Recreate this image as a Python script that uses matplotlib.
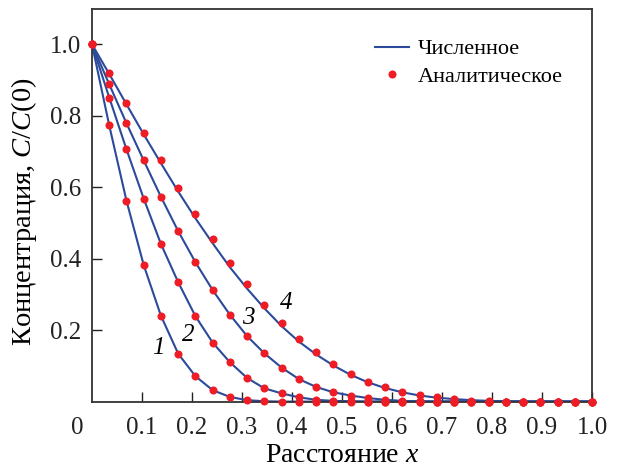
import numpy as np
import matplotlib
matplotlib.use('Agg')
import matplotlib.pyplot as plt
from matplotlib.transforms import ScaledTranslation

plt.rcParams['font.family'] = ['Liberation Serif', 'DejaVu Serif']
plt.rcParams['mathtext.fontset'] = 'custom'
plt.rcParams['mathtext.rm'] = 'Liberation Serif'
plt.rcParams['mathtext.it'] = 'Liberation Serif:italic'

# сетка по x (30 узлов)
x = np.arange(30) / 29

# аналитическое решение (точки)
c1 = [1.0, 0.773, 0.562, 0.382, 0.240, 0.134, 0.071, 0.032, 0.013, 0.004,
      0.001, 0, 0, 0, 0, 0, 0, 0, 0, 0, 0, 0, 0, 0, 0, 0, 0, 0, 0, 0]
c2 = [1.0, 0.851, 0.706, 0.568, 0.441, 0.334, 0.239, 0.165, 0.110, 0.066,
      0.037, 0.023, 0.012, 0.005, 0.002, 0.001, 0, 0, 0, 0, 0, 0, 0, 0, 0, 0, 0, 0, 0, 0]
c3 = [1.0, 0.888, 0.779, 0.675, 0.573, 0.477, 0.390, 0.312, 0.243, 0.183,
      0.135, 0.095, 0.063, 0.041, 0.026, 0.017, 0.010, 0.005, 0.002, 0.001,
      0, 0, 0, 0, 0, 0, 0, 0, 0, 0]
c4 = [1.0, 0.919, 0.836, 0.753, 0.675, 0.597, 0.525, 0.454, 0.388, 0.328,
      0.271, 0.221, 0.176, 0.140, 0.106, 0.078, 0.056, 0.040, 0.028, 0.018,
      0.013, 0.007, 0.003, 0.001, 0, 0, 0, 0, 0, 0]

# численное решение (линии)
n1 = c1
n2 = c2
n3 = c3
n4 = [1.0, 0.917, 0.832, 0.748, 0.667, 0.588, 0.513, 0.443, 0.376, 0.316,
      0.261, 0.211, 0.168, 0.132, 0.101, 0.075, 0.054, 0.038, 0.026, 0.017,
      0.011, 0.007, 0.004, 0.002, 0.001, 0, 0, 0, 0, 0]

curve_labels = ['1', '2', '3', '4']
label_pos = [(0.133, 0.149), (0.193, 0.186), (0.313, 0.233), (0.389, 0.277)]

line_color = '#2C4A9A'
dot_color = '#EE1C25'

fig = plt.figure(figsize=(6.19, 4.68), dpi=100)
ax = fig.add_axes([92 / 619, 1 - 401.6 / 468, 500 / 619, 392.3 / 468])

for i, (n, c) in enumerate(zip([n1, n2, n3, n4], [c1, c2, c3, c4])):
    ax.plot(x, n, color=line_color, lw=1.5, zorder=2,
            label='Численное' if i == 0 else None)
    ax.plot(x, c, 'o', color=dot_color, ms=5.8, mec='none', zorder=3, clip_on=False,
            label='Аналитическое' if i == 0 else None)

for t, (lx, ly) in zip(curve_labels, label_pos):
    ax.text(lx, ly, t, fontsize=18, style='italic', ha='center', va='center')

ax.set_xlim(0, 1.0)
ax.set_ylim(0, 1.098)
ax.set_xticks(np.arange(0, 1.01, 0.1))
ax.set_xticklabels(['0'] + ['%.1f' % v for v in np.arange(0.1, 1.01, 0.1)])
ax.set_yticks([0.2, 0.4, 0.6, 0.8, 1.0])
ax.set_yticklabels(['0.2', '0.4', '0.6', '0.8', '1.0'])
ax.tick_params(direction='in', length=7, width=1, labelsize=18, colors='#222222')
ax.tick_params(axis='x', pad=11)
ax.tick_params(axis='y', pad=8)
# "0" сдвинут влево от угла
lbl0 = ax.get_xticklabels()[0]
lbl0.set_transform(lbl0.get_transform() + ScaledTranslation(-15 / 100, 0, fig.dpi_scale_trans))
ax.xaxis.get_major_ticks()[0].tick1line.set_visible(False)

for s in ax.spines.values():
    s.set_linewidth(1.3)
    s.set_color('#333333')

ax.set_xlabel('Расстояние $x$', fontsize=20, labelpad=3)
ax.set_ylabel('Концентрация, $C/C$(0)', fontsize=20.5)
ax.yaxis.set_label_coords(-0.105, 0.483)

ax.legend(loc='upper left', bbox_to_anchor=(0.565, 0.925), frameon=False, fontsize=16,
          handlelength=1.55, handletextpad=0.4, labelspacing=0.3, borderaxespad=0,
          borderpad=0)

fig.savefig('out.png', dpi=100)
